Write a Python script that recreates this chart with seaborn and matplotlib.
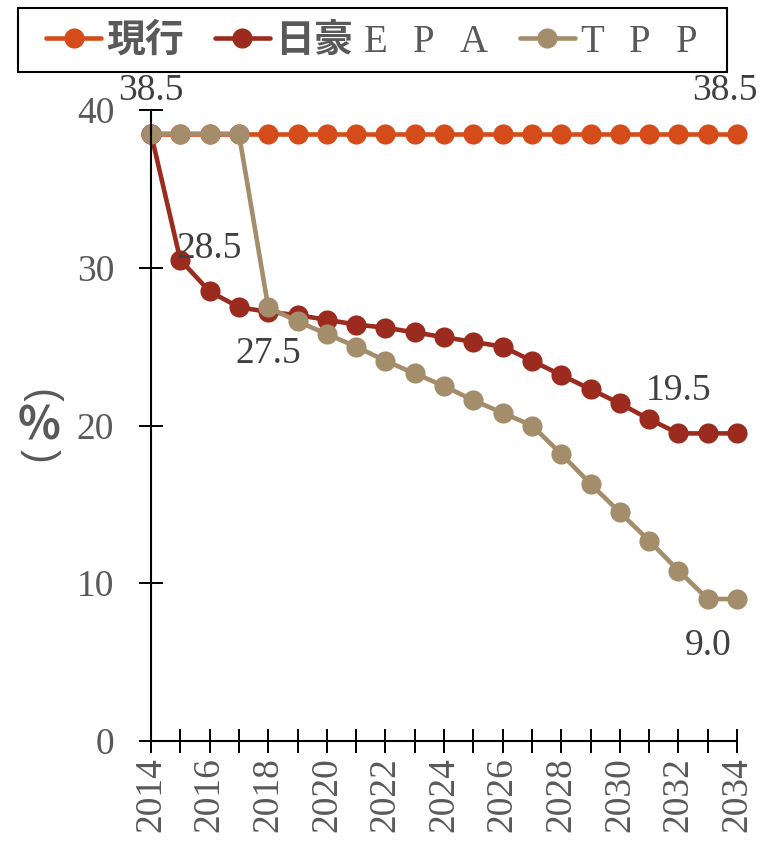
import matplotlib
matplotlib.use("Agg")
import matplotlib.pyplot as plt
import pandas as pd
import seaborn as sns
from matplotlib.font_manager import FontProperties
from matplotlib.patches import Rectangle

# Beef tariff rate schedule (%), 2014-2034
years = [2014, 2015, 2016, 2017, 2018, 2019, 2020, 2021, 2022, 2023, 2024,
         2025, 2026, 2027, 2028, 2029, 2030, 2031, 2032, 2033, 2034]
current_rate = [38.5, 38.5, 38.5, 38.5, 38.5, 38.5, 38.5, 38.5, 38.5, 38.5, 38.5,
                38.5, 38.5, 38.5, 38.5, 38.5, 38.5, 38.5, 38.5, 38.5, 38.5]
epa_rate = [38.5, 30.5, 28.5, 27.5, 27.2, 27.0, 26.7, 26.4, 26.2, 25.9, 25.6,
            25.3, 25.0, 24.1, 23.2, 22.3, 21.4, 20.4, 19.5, 19.5, 19.5]
tpp_rate = [38.5, 38.5, 38.5, 38.5, 27.5, 26.6, 25.8, 25.0, 24.1, 23.3, 22.5,
            21.6, 20.8, 20.0, 18.2, 16.3, 14.5, 12.7, 10.8, 9.0, 9.0]

series_names = ["現行", "日豪EPA", "TPP"]
legend_labels = ["現行", r"日豪$\mathrm{\;E\ \ P\ \ A}$", r"$\mathrm{T\ \ P\ \ P}$"]
series_colors = ["#D54B19", "#9B2B1E", "#A38D6A"]
y_ticks = [0, 10, 20, 30, 40]

# Point labels: (series, year, placement, horizontal shift in pt)
point_labels = [("現行", 2014, "above", 0), ("現行", 2034, "above", -9),
                ("日豪EPA", 2016, "above", 0), ("TPP", 2018, "below", 0),
                ("日豪EPA", 2032, "above", 0), ("TPP", 2033, "below", 0)]

values = {"現行": current_rate, "日豪EPA": epa_rate, "TPP": tpp_rate}
df = pd.concat([pd.DataFrame({"year": years, "rate": values[n], "series": n})
                for n in series_names], ignore_index=True)

sns.set_style("white")
plt.rcParams["font.family"] = ["Liberation Serif", "Noto Sans CJK JP"]
plt.rcParams["mathtext.fontset"] = "custom"
plt.rcParams["mathtext.rm"] = "Liberation Serif"

TXT = "#595959"
LBL = "#404040"

fig = plt.figure(figsize=(7.73, 8.42), dpi=100)
ax = fig.add_axes([151 / 773, 1 - 741 / 842, (737 - 151) / 773, (741 - 110) / 842])

sns.lineplot(data=df, x="year", y="rate", hue="series", hue_order=series_names,
             palette=series_colors, marker="o", markersize=14.5, markeredgewidth=0,
             linewidth=3.3, legend=False, clip_on=False, ax=ax)

ax.set_xlim(2014, 2034)
ax.set_ylim(0, 40)
ax.set_yticks(y_ticks)
ax.set_yticklabels([str(t) for t in y_ticks])
ax.set_xticks(years)
ax.set_xticklabels([str(y) if y % 2 == 0 else "" for y in years], rotation=90)
ax.set_xlabel("")
ax.set_ylabel("")

for s in ["top", "right"]:
    ax.spines[s].set_visible(False)
for s in ["left", "bottom"]:
    ax.spines[s].set_color("black")
    ax.spines[s].set_linewidth(1.5)

ax.tick_params(axis="both", direction="inout", length=17, width=1.4, color="black",
               labelsize=27, labelcolor=TXT, bottom=True, left=True)
ax.tick_params(axis="y", pad=18)
ax.tick_params(axis="x", pad=3)

# Value labels taken from the series
for name, yr, where, dx in point_labels:
    v = values[name][years.index(yr)]
    dy = 24 if where == "above" else -40
    ax.annotate(f"{v:.1f}", xy=(yr, v), xytext=(dx, dy), textcoords="offset points",
                ha="center", va="baseline", fontsize=27, color=LBL,
                family="Liberation Serif", annotation_clip=False)

# Vertical unit label (％): arcs above and below an upright percent sign
fig.text(40 / 773, 1 - 396 / 842, "(", rotation=-90, ha="center", va="center",
         fontsize=30, color=TXT, family="Liberation Sans")
fig.text(39 / 773, 1 - 427 / 842, "%", ha="center", va="center",
         fontsize=32, color=TXT, family="Noto Sans CJK JP", fontweight="bold")
fig.text(40 / 773, 1 - 456 / 842, ")", rotation=-90, ha="center", va="center",
         fontsize=30, color=TXT, family="Liberation Sans")

# Legend
cjk_bold = FontProperties(family="Noto Sans CJK JP", weight="bold", size=28)
handles = ax.get_lines()[:3]
leg = fig.legend(handles, legend_labels, loc="center",
                 bbox_to_anchor=(372 / 773, 1 - 40 / 842), bbox_transform=fig.transFigure,
                 ncol=3, frameon=False, prop=cjk_bold, handlelength=1.41,
                 handletextpad=0.13, columnspacing=0.8)
for t in leg.get_texts():
    t.set_color(TXT)

fig.add_artist(Rectangle((18 / 773, 1 - 72 / 842), (727 - 18) / 773, 64 / 842,
                         transform=fig.transFigure, fill=False, lw=1.5, ec="black"))

fig.savefig("out.png", dpi=100)
